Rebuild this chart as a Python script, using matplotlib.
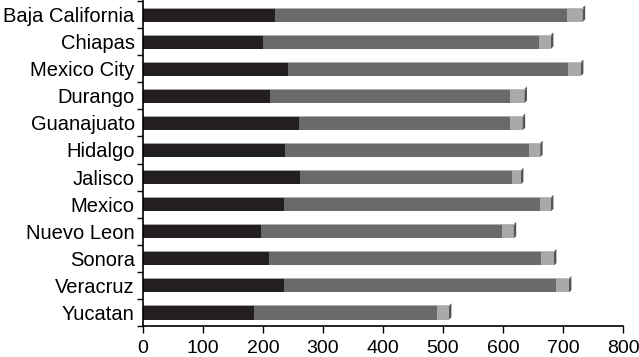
import matplotlib
matplotlib.use("Agg")
import matplotlib.pyplot as plt
from matplotlib.patches import Polygon
import numpy as np

plt.rcParams['font.family'] = ['Liberation Sans', 'DejaVu Sans']

states = ["Baja California", "Chiapas", "Mexico City", "Durango", "Guanajuato",
          "Hidalgo", "Jalisco", "Mexico", "Nuevo Leon", "Sonora", "Veracruz", "Yucatan"]
seg1 = [220, 200, 242, 212, 260, 237, 262, 235, 196, 210, 235, 185]
seg2 = [487, 460, 467, 400, 351, 406, 353, 427, 402, 453, 454, 305]
seg3 = [26, 20, 21, 24, 22, 19, 15, 18, 20, 22, 21, 20]
xticks = [0, 100, 200, 300, 400, 500, 600, 700, 800]

c1, c2, c3 = "#231f20", "#6a6a6a", "#a9a9a9"

fig = plt.figure(figsize=(6.39, 3.57), dpi=100)
ax = fig.add_axes([143/639, (357-326)/357, (623-143)/639, (326-1)/357])

y = np.arange(len(states))
s1 = np.array(seg1); s2 = np.array(seg2); s3 = np.array(seg3)
h = 0.52
ax.barh(y, s1, height=h, color=c1)
ax.barh(y, s2, height=h, left=s1, color=c2)
ax.barh(y, s3, height=h, left=s1 + s2, color=c3)

# 3D side faces
tot = s1 + s2 + s3
dx, dy = 4, 0.08
for yi, t in zip(y, tot):
    ax.add_patch(Polygon([[t, yi + h/2], [t + dx, yi + h/2 - dy], [t + dx, yi - h/2 - dy],
                          [t, yi - h/2]], closed=True, color="#555555", lw=0))
    ax.plot([0, t], [yi - h/2, yi - h/2], color="#bdbdbd", lw=0.6)

ax.set_ylim(len(states) - 0.5, -0.5)
ax.set_xlim(0, 800)
ax.set_xticks(xticks)
ax.set_xticklabels([str(v) for v in xticks], fontsize=14)
ax.set_yticks(y)
ax.set_yticklabels(states, fontsize=14.5)
ax.set_yticks(np.arange(len(states) + 1) - 0.5, minor=True)
ax.tick_params(axis='y', which='major', length=0, pad=6)
ax.tick_params(axis='y', which='minor', length=4, width=1)
ax.tick_params(axis='x', length=5, width=1, pad=5)
for s in ["top", "right"]:
    ax.spines[s].set_visible(False)
for s in ["left", "bottom"]:
    ax.spines[s].set_linewidth(1.2)

fig.savefig("out.png", dpi=100)
